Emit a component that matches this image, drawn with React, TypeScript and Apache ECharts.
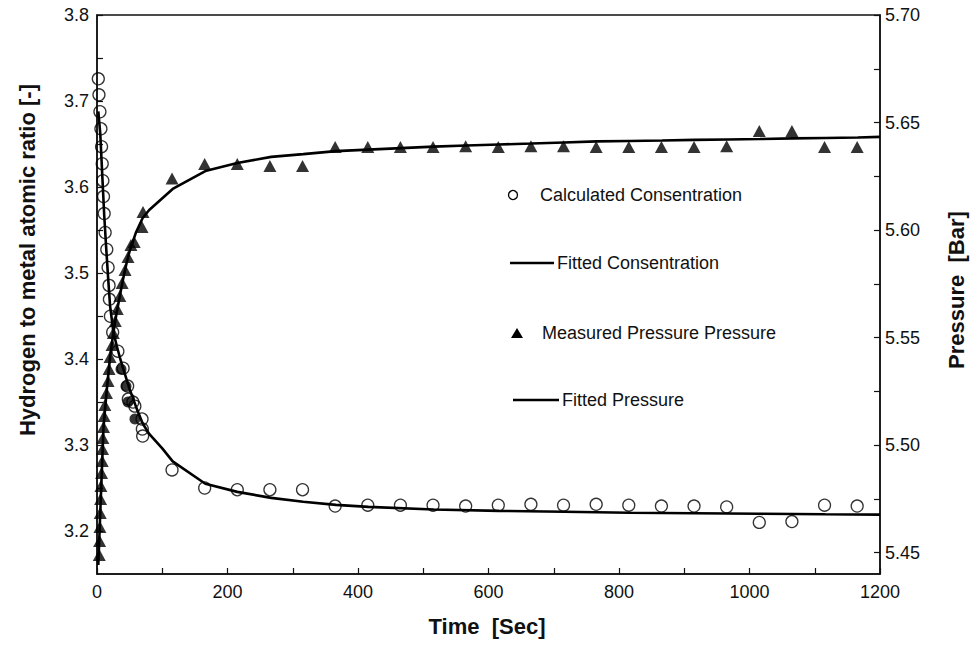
import React, { useEffect, useRef } from "react";
import * as echarts from "echarts";

// Calculated concentration (hollow circles) – left axis
const calcTime = [2, 3, 4.5, 6, 7, 8, 9, 10, 11, 12.5, 15, 17, 18.5, 19, 20.5, 24, 32, 40, 47, 48, 55, 58, 69, 69.5, 70, 115,
  165, 215, 265, 315, 365, 415, 465, 515, 565, 615, 665, 715, 765, 815, 865, 915, 965, 1015, 1065, 1115, 1165];
const calcConc = [3.7258, 3.7072, 3.6875, 3.6677, 3.6469, 3.6271, 3.6074, 3.5889, 3.5691, 3.5471, 3.5274, 3.5065, 3.4856, 3.4694,
  3.4497, 3.4311, 3.4091, 3.3893, 3.3685, 3.3534, 3.3499, 3.3452, 3.3302, 3.3186, 3.3104, 3.271,
  3.250, 3.248, 3.248, 3.248, 3.229, 3.230, 3.230, 3.230, 3.229, 3.230, 3.231, 3.230, 3.231, 3.230, 3.229, 3.229, 3.228,
  3.210, 3.211, 3.230, 3.229];

// overlapping (dark) calculated points
const calcDenseTime = [36.8, 44.4, 47.5, 58.2];
const calcDenseConc = [3.3882, 3.3684, 3.3499, 3.3302];

// Fitted concentration – left axis
const fitConcTime = [2, 5, 8, 11, 14, 17, 20, 25, 30, 35, 40, 50, 60, 70, 80, 100, 116, 166, 215, 267, 316, 366, 416, 516,
  616, 716, 816, 916, 1016, 1116, 1200];
const fitConc = [3.688, 3.662, 3.615, 3.568, 3.53, 3.495, 3.462, 3.432, 3.416, 3.402, 3.389, 3.365, 3.344, 3.325, 3.313,
  3.296, 3.281, 3.255, 3.2455, 3.2385, 3.234, 3.2304, 3.228, 3.225, 3.2234, 3.2223, 3.2212, 3.2206, 3.22, 3.2194, 3.219];

// Measured pressure (filled triangles) – right axis
const pressTime = [3.5, 4, 4.5, 5, 5.5, 6, 7, 8, 8.5, 9, 10, 11, 12, 14.5, 17, 18.5, 20, 23, 25, 28, 31, 35, 38.5, 43, 47.5,
  52, 57, 69, 70.5, 115, 165, 215, 265, 315, 365, 415, 465, 515, 565, 615, 665, 715, 765, 815, 865, 915, 965, 1015, 1065,
  1115, 1165];
const pressVal = [5.4488, 5.4553, 5.4619, 5.4684, 5.4749, 5.4809, 5.487, 5.4926, 5.4981, 5.5033, 5.5084, 5.5135, 5.5186,
  5.5242, 5.5298, 5.5353, 5.5409, 5.5465, 5.5521, 5.5577, 5.5633, 5.5693, 5.5753, 5.5814, 5.5874, 5.593, 5.5944, 5.6014,
  5.6084, 5.624, 5.6307, 5.6307, 5.6298, 5.6298, 5.6386, 5.6386, 5.6386, 5.6386, 5.639, 5.6386, 5.639, 5.639, 5.6386,
  5.6386, 5.6386, 5.6386, 5.639, 5.646, 5.646, 5.6386, 5.6386];

// Fitted pressure – right axis
const fitPressTime = [2, 5, 10, 15, 20, 25, 30, 35, 40, 45, 50, 60, 70, 80, 116, 166, 215, 267, 316, 366, 416, 466, 516,
  566, 616, 666, 716, 766, 816, 866, 916, 966, 1016, 1066, 1116, 1166, 1200];
const fitPress = [5.4442, 5.4684, 5.5084, 5.5256, 5.5409, 5.5521, 5.5614, 5.5693, 5.5772, 5.5842, 5.5902, 5.5991, 5.6056,
  5.6093, 5.6191, 5.6274, 5.6312, 5.634, 5.6353, 5.6367, 5.6374, 5.6381, 5.6388, 5.6393, 5.6398, 5.6402, 5.6407, 5.6412,
  5.6414, 5.6416, 5.6419, 5.6421, 5.6423, 5.6426, 5.6428, 5.643, 5.6433];

// Axis ticks / labels
const leftLabels = [3.2, 3.3, 3.4, 3.5, 3.6, 3.7, 3.8];
const leftTicks = [3.2, 3.25, 3.3, 3.35, 3.4, 3.45, 3.5, 3.55, 3.6, 3.65, 3.7, 3.75, 3.8];
const rightLabels = [5.45, 5.5, 5.55, 5.6, 5.65, 5.7];
const rightTicks = [5.45, 5.475, 5.5, 5.525, 5.55, 5.575, 5.6, 5.625, 5.65, 5.675, 5.7];

const FONT = "'Liberation Sans', Arial, Helvetica, sans-serif";
const INK = "#111";

const zip = (a: number[], b: number[]) => a.map((v, i) => [v, b[i]]);

export default function App() {
  const ref = useRef<HTMLDivElement>(null);
  useEffect(() => {
    if (!ref.current) return;
    const chart = echarts.init(ref.current, undefined, { renderer: "svg" });
    const axisLine = { show: true, lineStyle: { color: INK, width: 1.5 } };
    const labelStyle = { color: INK, fontSize: 18, fontFamily: FONT };
    chart.setOption({
      animation: false,
      backgroundColor: "#fff",
      grid: { left: 97, right: 93, top: 15, bottom: 72, show: true, borderColor: INK, borderWidth: 1.5 },
      xAxis: {
        type: "value",
        min: 0,
        max: 1200,
        interval: 100,
        axisLine,
        axisTick: { show: true, inside: true, length: 6, lineStyle: { color: INK, width: 1.2 } },
        axisLabel: { ...labelStyle, margin: 9, formatter: (v: number) => (v % 200 === 0 ? String(v) : "") },
        splitLine: { show: false },
      },
      yAxis: [
        {
          type: "value",
          min: 3.15,
          max: 3.8,
          position: "left",
          axisLine,
          axisTick: { show: true, inside: true, length: 6, customValues: leftTicks, lineStyle: { color: INK, width: 1.2 } },
          axisLabel: { ...labelStyle, margin: 8, customValues: leftLabels, formatter: (v: number) => v.toFixed(1) },
          splitLine: { show: false },
        },
        {
          type: "value",
          min: 5.44,
          max: 5.7,
          position: "right",
          axisLine,
          axisTick: { show: true, inside: true, length: 6, customValues: rightTicks, lineStyle: { color: INK, width: 1.2 } },
          axisLabel: { ...labelStyle, margin: 5, customValues: rightLabels, formatter: (v: number) => v.toFixed(2) },
          splitLine: { show: false },
        },
      ],
      series: [
        {
          name: "Fitted Consentration",
          type: "line",
          yAxisIndex: 0,
          data: zip(fitConcTime, fitConc),
          showSymbol: false,
          lineStyle: { color: "#000", width: 2.6 },
          z: 2,
        },
        {
          name: "Fitted Pressure",
          type: "line",
          yAxisIndex: 1,
          data: zip(fitPressTime, fitPress),
          showSymbol: false,
          lineStyle: { color: "#000", width: 2.6 },
          z: 2,
        },
        {
          name: "Calculated Consentration",
          type: "scatter",
          yAxisIndex: 0,
          data: zip(calcTime, calcConc),
          symbol: "circle",
          symbolSize: 12,
          itemStyle: { color: "rgba(0,0,0,0)", borderColor: "#000", borderWidth: 1.3 },
          z: 3,
        },
        {
          name: "Calculated (overlap)",
          type: "scatter",
          yAxisIndex: 0,
          data: zip(calcDenseTime, calcDenseConc),
          symbol: "circle",
          symbolSize: 11,
          itemStyle: { color: "#000" },
          z: 3,
        },
        {
          name: "Measured Pressure Pressure",
          type: "scatter",
          yAxisIndex: 1,
          data: zip(pressTime, pressVal),
          symbol: "triangle",
          symbolSize: [13, 12],
          itemStyle: { color: "#000" },
          z: 4,
        },
      ],
      graphic: [
        // axis titles
        {
          type: "text",
          x: 487,
          y: 626,
          style: { text: "Time  [Sec]", font: `bold 22px ${FONT}`, fill: INK, textAlign: "center", textVerticalAlign: "middle", align: "center", verticalAlign: "middle" },
        },
        {
          type: "text",
          x: 27,
          y: 260,
          rotation: Math.PI / 2,
          style: { text: "Hydrogen to metal atomic ratio [-]", font: `bold 22px ${FONT}`, fill: INK, textAlign: "center", textVerticalAlign: "middle", align: "center", verticalAlign: "middle" },
        },
        {
          type: "text",
          x: 956,
          y: 290,
          rotation: Math.PI / 2,
          style: { text: "Pressure  [Bar]", font: `bold 22px ${FONT}`, fill: INK, textAlign: "center", textVerticalAlign: "middle", align: "center", verticalAlign: "middle" },
        },
        // legend
        { type: "circle", shape: { cx: 513, cy: 195, r: 4.5 }, style: { fill: "none", stroke: "#000", lineWidth: 1.3 } },
        { type: "text", x: 540, y: 195, style: { text: "Calculated Consentration", font: `18px ${FONT}`, fill: INK, textVerticalAlign: "middle", verticalAlign: "middle" } },
        { type: "line", shape: { x1: 510, y1: 263, x2: 554, y2: 263 }, style: { stroke: "#000", lineWidth: 2.6 } },
        { type: "text", x: 557, y: 263, style: { text: "Fitted Consentration", font: `18px ${FONT}`, fill: INK, textVerticalAlign: "middle", verticalAlign: "middle" } },
        { type: "polygon", shape: { points: [[511, 338], [523, 338], [517, 328]] }, style: { fill: "#000" } },
        { type: "text", x: 542, y: 333, style: { text: "Measured Pressure Pressure", font: `18px ${FONT}`, fill: INK, textVerticalAlign: "middle", verticalAlign: "middle" } },
        { type: "line", shape: { x1: 513, y1: 400, x2: 559, y2: 400 }, style: { stroke: "#000", lineWidth: 2.6 } },
        { type: "text", x: 562, y: 400, style: { text: "Fitted Pressure", font: `18px ${FONT}`, fill: INK, textVerticalAlign: "middle", verticalAlign: "middle" } },
      ],
    });
    return () => chart.dispose();
  }, []);
  return <div ref={ref} style={{ position: "fixed", left: 0, top: 0, width: 973, height: 646, background: "#fff" }} />;
}
